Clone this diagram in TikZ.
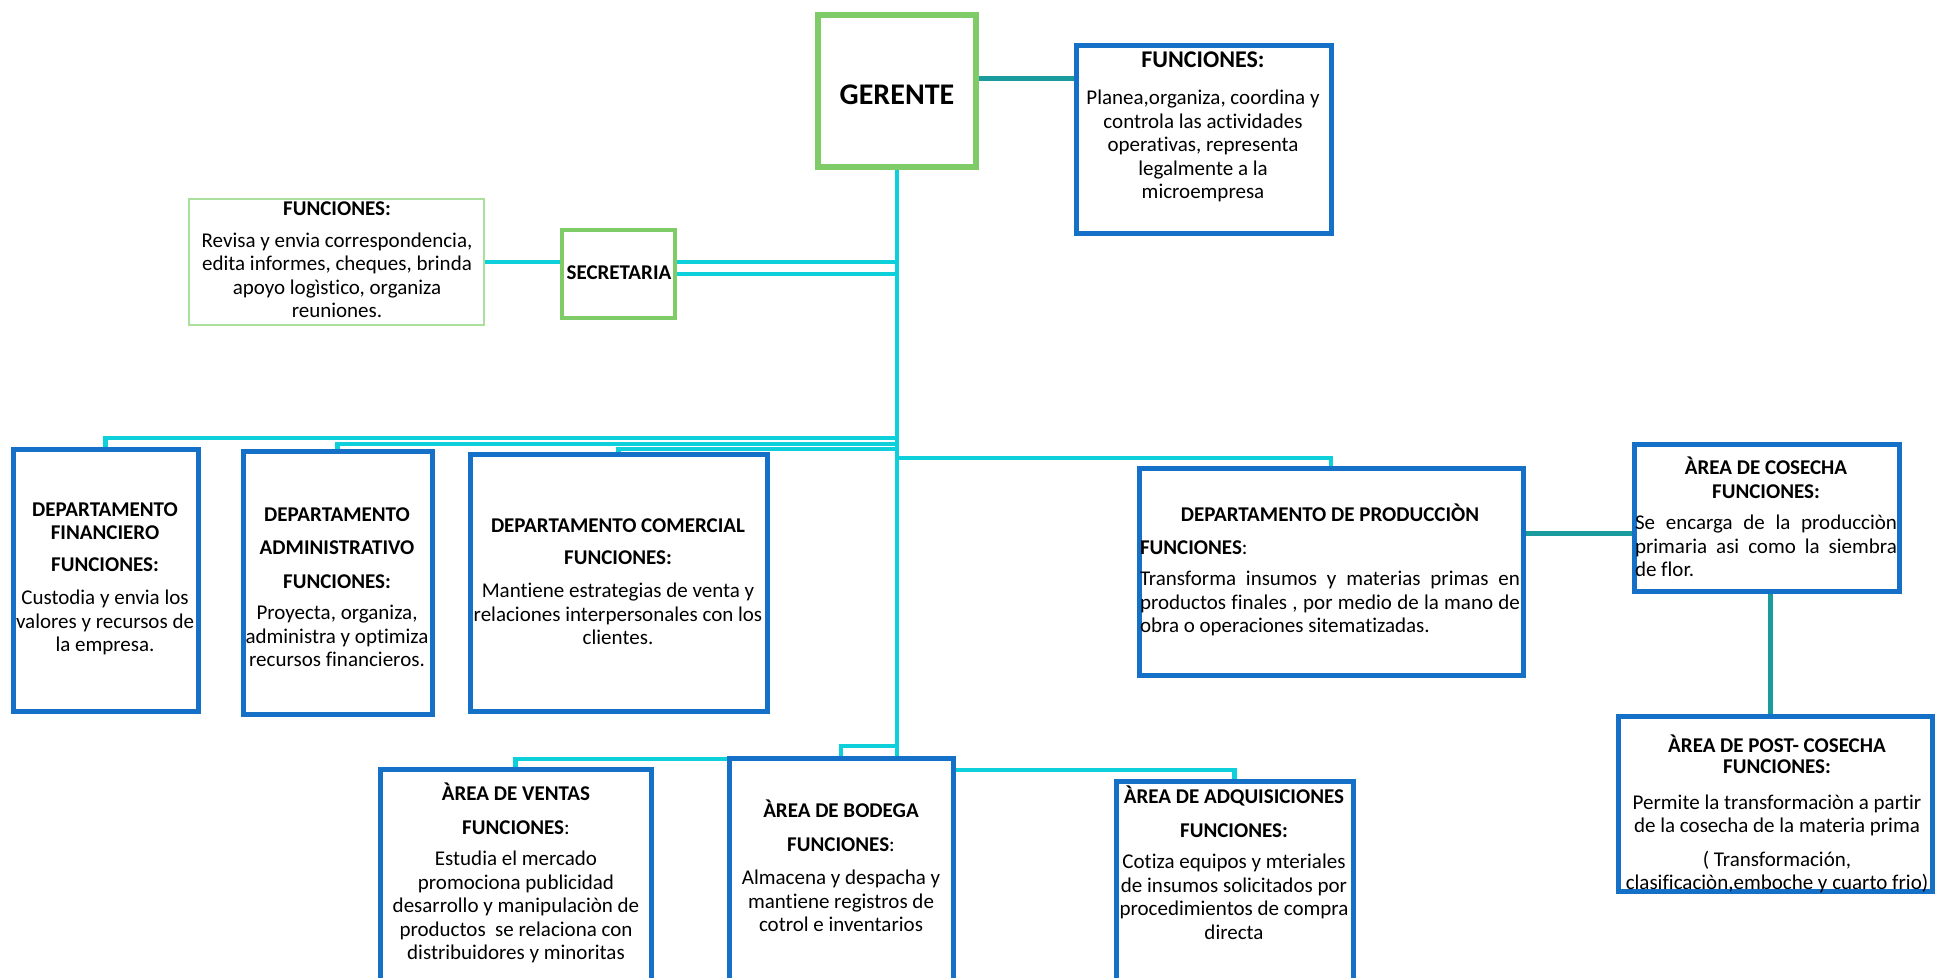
\documentclass[tikz,border=0pt]{standalone}
\usepackage{fontspec}
\setmainfont{Carlito}[Ligatures=NoCommon]
\usetikzlibrary{fit,backgrounds}
\definecolor{azul}{RGB}{21,112,200}
\definecolor{verde}{RGB}{126,203,104}
\definecolor{verdeclaro}{RGB}{170,224,156}
\definecolor{celeste}{RGB}{14,208,218}
\definecolor{turquesa}{RGB}{26,156,158}
\begin{document}
\begin{tikzpicture}[x=0.5pt,y=-0.5pt,
caja/.style={draw=azul,line width=2.5pt,fill=white,inner sep=0pt,outer sep=0pt},
cajaverde/.style={caja,draw=verde,line width=3pt},
linea/.style={celeste,line width=2.4pt},
enlace/.style={turquesa,line width=2.5pt},
txt/.style={align=center,inner sep=0pt,font=\fontsize{10.5}{11.75}\selectfont}]
\useasboundingbox (0,0) rectangle (1935,978);
\clip (0,0) rectangle (1935,978);
%cajas
\node[cajaverde,fit={(818,15)(976,167)}] (ger) {};
\node[caja,fit={(1076,46)(1331,234)}] (gfun) {};
\node[caja,draw=verdeclaro,line width=0.6pt,fit={(189,199)(484,325)}] (secfun) {};
\node[cajaverde,line width=2.2pt,fit={(562,230)(675,318)}] (sec) {};
\node[caja,fit={(13,450)(198,712)}] (fin) {};
\node[caja,fit={(243,452)(432,715)}] (adm) {};
\node[caja,fit={(470,455)(767,712)}] (com) {};
\node[caja,fit={(1139,469)(1523,676)}] (prod) {};
\node[caja,fit={(1634,445)(1899,592)}] (cos) {};
\node[caja,fit={(1618,717)(1932,891)}] (post) {};
\node[caja,fit={(380,769)(651,1000)}] (ven) {};
\node[caja,fit={(729,758)(953,1000)}] (bod) {};
\node[caja,fit={(1116,781)(1353,1000)}] (adq) {};
%lineas
\begin{scope}[on background layer]
\draw[linea] (fin.north)--++(0,-12)-|(ger.south);
\draw[linea] (adm.north)--++(0,-8)-|(ger.south);
\draw[linea] (com.north)--++(0,-6)-|(ger.south);
\draw[linea] (prod.north)--++(0,-11)-|(ger.south);
\draw[linea] (bod.north)--++(0,-12)-|(ger.south);
\draw[linea] (ven.north)--++(0,-10)-|(ger.south);
\draw[linea] (adq.north)--++(0,-11)-|(ger.south);
\draw[linea] (secfun.east)--(secfun.east-|sec.west);
\draw[linea] ([yshift=6pt]sec.east)--([yshift=6pt]sec.east-|ger.south);
\draw[linea] (sec.east)--(sec.east-|ger.south);
\draw[enlace] ([yshift=6pt]ger.east)--([yshift=6pt]ger.east-|gfun.west);
\draw[enlace] ([yshift=-7.5pt]cos.west)--([yshift=-7.5pt]cos.west-|prod.east);
\draw[enlace] ([xshift=2pt]cos.south)--([xshift=2pt]cos.south|-post.north);
\end{scope}
%textos
\node[txt,font=\bfseries\fontsize{15}{18}\selectfont] (gertxt) at (897,95) {GERENTE};
\node[txt] (gfuntxt) at (1203,127) {{\fontsize{12}{14}\selectfont\textbf{FUNCIONES:}}\\[7pt]Planea,organiza, coordina y\\controla las actividades\\operativas, representa\\legalmente a la\\microempresa};
\node[txt] (secfuntxt) at (337,260) {\textbf{FUNCIONES:}\\[4pt]Revisa y envia correspondencia,\\edita informes, cheques, brinda\\apoyo logìstico, organiza\\reuniones.};
\node[txt,font=\bfseries\fontsize{10.5}{12}\selectfont] (sectxt) at (619,273) {SECRETARIA};
\node[txt] (fintxt) at (105,579) {\textbf{DEPARTAMENTO}\\\textbf{FINANCIERO}\\[4pt]\textbf{FUNCIONES:}\\[5pt]Custodia y envia los\\valores y recursos de\\la empresa.};
\node[txt] (admtxt) at (337,587) {\textbf{DEPARTAMENTO}\\[5pt]\textbf{ADMINISTRATIVO}\\[5pt]\textbf{FUNCIONES:}\\[4pt]Proyecta, organiza,\\administra y optimiza\\recursos financieros.};
\node[txt] (comtxt) at (618,582) {\textbf{DEPARTAMENTO COMERCIAL}\\[4pt]\textbf{FUNCIONES:}\\[5pt]Mantiene estrategias de venta y\\relaciones interpersonales con los\\clientes.};
\node[txt] (prodtxt) at (1330,570) {\textbf{DEPARTAMENTO DE PRODUCCIÒN}\\[4.5pt]\makebox[190pt][l]{\textbf{FUNCIONES}:}\\[4pt]\makebox[190pt][s]{Transforma insumos y materias primas en}\\\makebox[190pt][s]{productos finales , por medio de la mano de}\\\makebox[190pt][l]{obra o operaciones sitematizadas.}};
\node[txt] (costxt) at (1766,517) {\textbf{ÀREA DE COSECHA}\\\textbf{FUNCIONES:}\\[4pt]\makebox[131pt][s]{Se encarga de la producciòn}\\\makebox[131pt][s]{primaria asi como la siembra}\\\makebox[131pt][l]{de flor.}};
\node[txt] (posttxt) at (1777,814) {\textbf{ÀREA DE POST- COSECHA}\\[-1pt]\textbf{FUNCIONES:}\\[6pt]Permite la transformaciòn a partir\\de la cosecha de la materia prima\\[5pt]( Transformación,\\clasificaciòn,emboche y cuarto frio)};
\node[txt] (ventxt) at (516,873) {\textbf{ÀREA DE VENTAS}\\[5pt]\textbf{FUNCIONES}:\\[4pt]Estudia el mercado\\promociona publicidad\\desarrollo y manipulaciòn de\\productos~ se relaciona con\\distribuidores y minoritas};
\node[txt] (bodtxt) at (841,866) {\textbf{ÀREA DE BODEGA}\\[5pt]\textbf{FUNCIONES}:\\[5pt]Almacena y despacha y\\mantiene registros de\\cotrol e inventarios};
\node[txt] (adqtxt) at (1234,863) {\textbf{ÀREA DE ADQUISICIONES}\\[5pt]\textbf{FUNCIONES:}\\[4pt]Cotiza equipos y mteriales\\de insumos solicitados por\\procedimientos de compra\\directa};
\end{tikzpicture}
\end{document}
